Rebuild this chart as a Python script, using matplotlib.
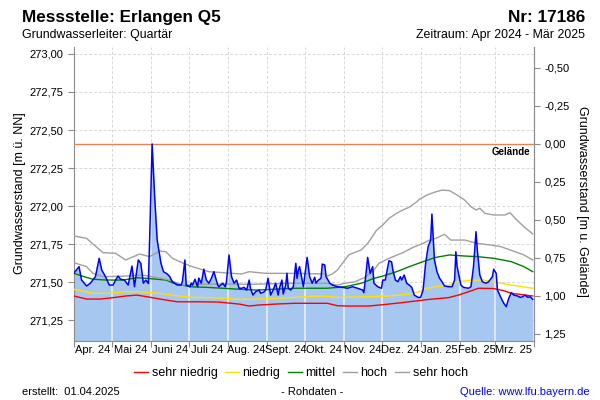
# -*- coding: utf-8 -*-
"""
Ganglinie Grundwasserstand Messstelle Erlangen Q5 (Apr 2024 - Mär 2025)
"""
import numpy as np
import matplotlib as mpl
import matplotlib.pyplot as plt
from matplotlib.lines import Line2D
from matplotlib.ticker import FixedLocator, FuncFormatter, NullFormatter

start = np.datetime64('2024-04-01')
gelaende = 272.41

# Tage seit 01.04.2024 und Messwerte [m ü. NN]
tage_gw = [0, 4, 6, 10, 13, 17, 20, 22, 25, 28, 31, 33, 35, 37, 40, 43, 46,
           48, 51, 53, 55, 57, 59, 60, 62, 64, 66, 69, 71, 74, 76, 78, 82,
           85, 86, 88, 89, 92, 93, 94, 96, 98, 99, 101, 103, 105, 107, 109,
           111, 114, 115, 118, 120, 121, 123, 125, 127, 129, 131, 133, 135,
           137, 139, 140, 142, 144, 147, 148, 151, 152, 154, 156, 158, 160,
           162, 163, 165, 166, 168, 169, 170, 172, 174, 176, 177, 178, 179,
           181, 182, 185, 187, 189, 191, 192, 194, 196, 197, 199, 200, 203,
           205, 209, 213, 217, 221, 225, 229, 230, 232, 233, 235, 237, 238,
           241, 244, 245, 247, 249, 250, 252, 253, 255, 257, 259, 260, 262,
           264, 266, 268, 270, 273, 275, 277, 279, 281, 283, 284, 285, 286,
           288, 290, 292, 294, 297, 300, 302, 303, 304, 307, 309, 313, 315,
           317, 319, 320, 322, 324, 327, 329, 332, 333, 335, 336, 339, 341,
           343, 345, 347, 349, 352, 354, 356, 358, 360, 362, 364]
gw = [271.559, 271.601, 271.513, 271.474, 271.492, 271.535, 271.656, 271.579,
      271.535, 271.480, 271.480, 271.513, 271.539, 271.518, 271.513, 271.480,
      271.605, 271.469, 271.645, 271.623, 271.492, 271.513, 271.490, 271.776,
      272.408, 272.062, 271.776, 271.623, 271.568, 271.553, 271.535, 271.502,
      271.480, 271.480, 271.502, 271.645, 271.480, 271.469, 271.493, 271.480,
      271.518, 271.469, 271.526, 271.492, 271.584, 271.513, 271.492, 271.524,
      271.568, 271.480, 271.469, 271.492, 271.469, 271.502, 271.678, 271.535,
      271.492, 271.513, 271.459, 271.459, 271.465, 271.447, 271.513, 271.459,
      271.414, 271.436, 271.447, 271.426, 271.436, 271.447, 271.524, 271.414,
      271.447, 271.492, 271.414, 271.459, 271.513, 271.421, 271.480, 271.557,
      271.459, 271.447, 271.469, 271.623, 271.524, 271.579, 271.601, 271.513,
      271.469, 271.662, 271.535, 271.492, 271.531, 271.493, 271.513, 271.524,
      271.618, 271.612, 271.535, 271.492, 271.480, 271.469, 271.465, 271.459,
      271.469, 271.459, 271.447, 271.430, 271.579, 271.662, 271.557, 271.601,
      271.492, 271.469, 271.459, 271.513, 271.513, 271.601, 271.640, 271.632,
      271.579, 271.513, 271.502, 271.535, 271.513, 271.546, 271.492, 271.480,
      271.465, 271.414, 271.399, 271.399, 271.447, 271.623, 271.732, 271.776,
      271.947, 271.798, 271.645, 271.568, 271.526, 271.502, 271.474, 271.469,
      271.469, 271.513, 271.699, 271.601, 271.480, 271.465, 271.459, 271.469,
      271.601, 271.831, 271.711, 271.546, 271.502, 271.492, 271.502, 271.535,
      271.584, 271.557, 271.447, 271.393, 271.360, 271.338, 271.393, 271.430,
      271.414, 271.408, 271.399, 271.403, 271.414, 271.399, 271.403, 271.386]

# Kennwerte
tage_sn = [0, 10, 21, 29, 41, 50, 58, 68, 82, 99, 115, 131, 139, 147, 160,
           175, 201, 209, 218, 234, 250, 266, 282, 297, 305, 313, 321, 333,
           341, 347, 364]
sehr_niedrig = [271.408, 271.388, 271.388, 271.395, 271.408, 271.414, 271.403,
                271.388, 271.370, 271.370, 271.368, 271.355, 271.342, 271.349,
                271.355, 271.360, 271.360, 271.344, 271.342, 271.342, 271.355,
                271.370, 271.386, 271.397, 271.414, 271.436, 271.459, 271.457,
                271.443, 271.426, 271.408]

tage_n = [0, 15, 28, 41, 52, 60, 68, 81, 94, 107, 120, 128, 136, 147, 160,
          175, 196, 209, 233, 250, 266, 274, 279, 287, 298, 304, 316, 325, 336,
          347, 364]
niedrig = [271.452, 271.426, 271.426, 271.436, 271.436, 271.430, 271.426,
           271.410, 271.399, 271.397, 271.393, 271.386, 271.386, 271.388,
           271.393, 271.399, 271.408, 271.399, 271.403, 271.408, 271.421,
           271.436, 271.456, 271.469, 271.480, 271.502, 271.513, 271.513,
           271.496, 271.480, 271.459]

tage_m = [0, 8, 15, 26, 39, 50, 58, 73, 79, 92, 105, 118, 132, 145, 175, 201,
          215, 228, 238, 245, 256, 266, 277, 287, 298, 310, 320, 333, 347, 357,
          364]
mittel = [271.557, 271.535, 271.518, 271.513, 271.513, 271.528, 271.524,
          271.513, 271.492, 271.469, 271.465, 271.459, 271.452, 271.447,
          271.459, 271.459, 271.469, 271.492, 271.524, 271.539, 271.568,
          271.601, 271.634, 271.662, 271.678, 271.671, 271.667, 271.656,
          271.634, 271.601, 271.568]

tage_h = [0, 10, 15, 23, 41, 54, 62, 76, 86, 99, 120, 141, 175, 201, 209, 215,
          223, 231, 238, 242, 250, 261, 269, 277, 282, 287, 294, 299, 310, 315,
          320, 331, 339, 350, 357, 364]
hoch = [271.627, 271.601, 271.557, 271.535, 271.539, 271.546, 271.535,
        271.513, 271.480, 271.485, 271.487, 271.485, 271.492, 271.492,
        271.480, 271.492, 271.502, 271.531, 271.579, 271.623, 271.656,
        271.693, 271.728, 271.754, 271.776, 271.787, 271.814, 271.776,
        271.776, 271.765, 271.754, 271.743, 271.732, 271.699, 271.678,
        271.645]

tage_sh = [0, 10, 23, 33, 41, 52, 60, 68, 73, 78, 87, 94, 107, 133, 139, 152,
           175, 199, 201, 205, 209, 214, 218, 224, 228, 233, 236, 240, 245, 250,
           256, 261, 266, 272, 274, 280, 285, 292, 298, 304, 310, 315, 319, 322,
           326, 333, 342, 346, 350, 357, 364]
sehr_hoch = [271.803, 271.787, 271.693, 271.689, 271.645, 271.684, 271.667,
             271.704, 271.699, 271.656, 271.623, 271.601, 271.568, 271.553,
             271.568, 271.557, 271.557, 271.553, 271.539, 271.553, 271.579,
             271.634, 271.678, 271.699, 271.711, 271.754, 271.790, 271.840,
             271.875, 271.919, 271.952, 271.974, 271.992, 272.028, 272.044,
             272.072, 272.088, 272.105, 272.101, 272.072, 272.039, 271.995,
             271.974, 271.985, 271.952, 271.941, 271.941, 271.956, 271.919,
             271.864, 271.816]

monate = ['Apr. 24', 'Mai 24', 'Juni 24', 'Juli 24', 'Aug. 24', 'Sept. 24',
          'Okt. 24', 'Nov. 24', 'Dez. 24', 'Jan. 25', 'Feb. 25', 'Mrz. 25']


def tage(t):
    return start + np.array(t, dtype='timedelta64[D]')


def komma(v, pos):
    return f'{v:.2f}'.replace('.', ',')


mpl.rc('font', family='Liberation Sans', size=8)
grau = '#8c8c8c'
y_unten, y_oben = 271.112, 273.046

fig = plt.figure(figsize=(6, 4), dpi=100)
ax = fig.add_axes([74 / 600, 1 - 341 / 400, 460 / 600, 294 / 400])

# Fläche unter der Ganglinie
x_gw = tage(tage_gw)
flaeche = ax.fill_between(x_gw, gw, 271.0, color='#a6c8f0', lw=0, zorder=1)

# Monatsgrenzen
grenzen = np.arange('2024-04', '2025-05', dtype='datetime64[M]').astype('datetime64[D]')
mitten = grenzen[:-1] + (grenzen[1:] - grenzen[:-1]) // 2

# helle Linien nur innerhalb der Fläche
pfad = flaeche.get_paths()[0]
for g in grenzen[1:-1]:
    ln = ax.axvline(g, color='#e8eef6', lw=1.2, zorder=1.5)
    ln.set_clip_path(pfad, ax.transData)

ax.plot(tage(tage_sn), sehr_niedrig, color='#ff0000', lw=1, zorder=3)
ax.plot(tage(tage_n), niedrig, color='#ffe000', lw=1, zorder=3)
ax.plot(tage(tage_m), mittel, color='#008000', lw=1, zorder=3)
ax.plot(tage(tage_h), hoch, color='#a0a0a0', lw=1, zorder=3)
ax.plot(tage(tage_sh), sehr_hoch, color='#a0a0a0', lw=1, zorder=3)
ax.plot(x_gw, gw, color='#0000ff', lw=1.1, zorder=4)

# Geländeoberkante
ax.axhline(gelaende, color='#e9825b', lw=1, zorder=3)
ax.text(grenzen[-1] - np.timedelta64(3, 'D'), gelaende - 0.02, 'Gelände',
        ha='right', va='top', fontsize=7, fontweight='bold', zorder=5)

ax.set_xlim(grenzen[0], grenzen[-1])
ax.set_ylim(y_unten, y_oben)
ax.yaxis.set_major_locator(FixedLocator(np.arange(271.25, 273.01, 0.25)))
ax.yaxis.set_major_formatter(FuncFormatter(komma))
ax.xaxis.set_major_locator(FixedLocator(mpl.dates.date2num(grenzen)))
ax.xaxis.set_major_formatter(NullFormatter())
ax.xaxis.set_minor_locator(FixedLocator(mpl.dates.date2num(mitten)))
ax.xaxis.set_minor_formatter(FuncFormatter(lambda v, p: monate[p]))
ax.tick_params(axis='x', which='minor', length=0, pad=3, labelsize=8)
ax.tick_params(axis='both', which='major', length=4, color=grau,
               direction='out', labelsize=8)
ax.grid(True, which='major', color='#d8d8d8', ls=(0, (3, 2)), lw=0.7, zorder=0)
ax.set_axisbelow(True)
for s in ['top']:
    ax.spines[s].set_visible(False)
for s in ['left', 'bottom', 'right']:
    ax.spines[s].set_color(grau)

# rechte Achse: Flurabstand
ax2 = ax.twinx()
ax2.set_ylim(gelaende - y_unten, gelaende - y_oben)
ax2.yaxis.set_major_locator(FixedLocator(np.arange(-0.5, 1.26, 0.25)))
ax2.yaxis.set_major_formatter(FuncFormatter(komma))
ax2.tick_params(axis='y', length=4, color=grau, direction='out', labelsize=8)
ax2.spines['top'].set_visible(False)
ax2.spines['right'].set_color(grau)
ax2.spines['left'].set_visible(False)
ax2.spines['bottom'].set_visible(False)

# Beschriftungen
fig.text(22 / 600, 1 - 22 / 400, 'Messstelle: Erlangen Q5', fontsize=12.3,
         fontweight='bold', va='baseline')
fig.text(585 / 600, 1 - 22 / 400, 'Nr: 17186', fontsize=12.3,
         fontweight='bold', va='baseline', ha='right')
fig.text(22 / 600, 1 - 38 / 400, 'Grundwasserleiter: Quartär', fontsize=8.9,
         va='baseline')
fig.text(585 / 600, 1 - 38 / 400, 'Zeitraum: Apr 2024 - Mär 2025',
         fontsize=8.9, va='baseline', ha='right')
fig.text(20 / 600, 1 - 193 / 400, 'Grundwasserstand [m ü. NN]', fontsize=9,
         rotation=90, ha='center', va='center')
fig.text(582 / 600, 1 - 201 / 400, 'Grundwasserstand [m u. Gelände]',
         fontsize=9, rotation=270, ha='center', va='center')

handles = [Line2D([], [], color=c, lw=1) for c in
           ['#ff0000', '#ffe000', '#008000', '#a0a0a0', '#a0a0a0']]
fig.legend(handles, ['sehr niedrig', 'niedrig', 'mittel', 'hoch', 'sehr hoch'],
           loc='center', bbox_to_anchor=(301 / 600, 1 - 373 / 400), ncol=5,
           frameon=False, fontsize=9, handlelength=1.1, handletextpad=0.3,
           columnspacing=0.6)

fig.text(22 / 600, 1 - 392 / 400, 'erstellt:  01.04.2025', fontsize=8,
         va='center')
fig.text(312 / 600, 1 - 392 / 400, '- Rohdaten -', fontsize=8, va='center',
         ha='center')
fig.text(590 / 600, 1 - 392 / 400, 'Quelle: www.lfu.bayern.de', fontsize=8,
         va='center', ha='right', color='#0000ff')

fig.savefig('out.png', dpi=100)
